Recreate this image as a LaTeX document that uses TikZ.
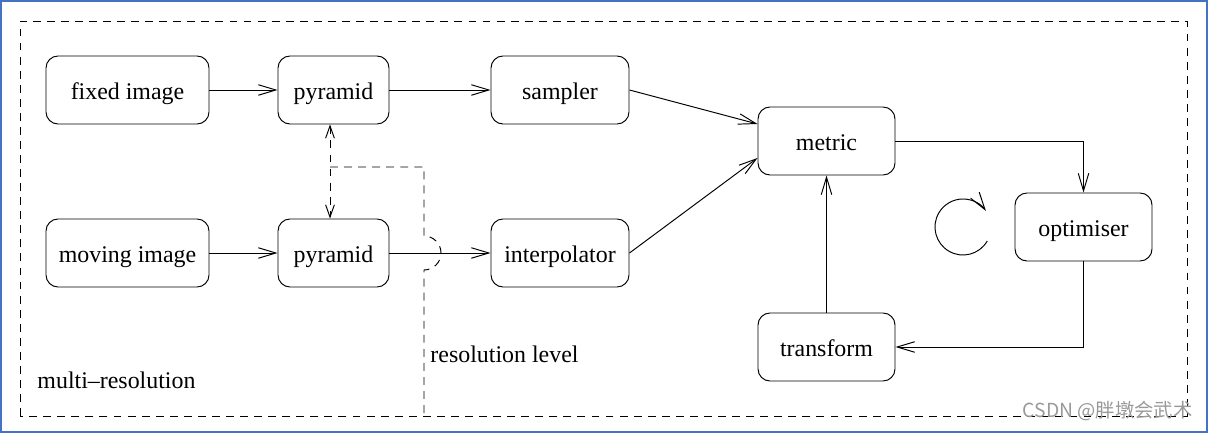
\documentclass[tikz,border=0pt]{standalone}
\usepackage{fontspec}
\setmainfont{Liberation Serif}
\newfontfamily\cjk{Noto Sans CJK SC}
\usetikzlibrary{arrows.meta}
\definecolor{edgeblue}{RGB}{68,114,196}

\begin{document}
\begin{tikzpicture}[>={Straight Barb[length=10pt,width=6pt]}, line width=0.55pt]
  \tikzset{box/.style={draw, rounded corners=0.24cm, minimum height=1.36cm, inner sep=0pt, text height=10.8pt, text depth=0pt, font=\fontsize{13.6}{16}\selectfont}};
  \tikzset{frame/.style={dash pattern=on 4.5pt off 3.5pt}};
  \tikzset{label/.style={anchor=base west, inner sep=0pt, font=\fontsize{13.6}{16}\selectfont}};
  \useasboundingbox (0,0) rectangle (24.16,8.66);
  \draw[line width=0.04cm, edgeblue] (0.02,0.02) rectangle (24.14,8.64);
  % boxes
  \node[box, minimum width=3.26cm] (fixed) at (2.55,6.86) {fixed image};
  \node[box, minimum width=2.22cm] (pyrf) at (6.67,6.86) {pyramid};
  \node[box, minimum width=2.76cm] (sampler) at (11.2,6.86) {sampler};
  \node[box, minimum width=2.74cm] (metric) at (16.53,5.84) {metric};
  \node[box, minimum width=3.26cm] (moving) at (2.55,3.60) {moving image};
  \node[box, minimum width=2.22cm] (pyrm) at (6.67,3.60) {pyramid};
  \node[box, minimum width=2.76cm] (interp) at (11.2,3.60) {interpolator};
  \node[box, minimum width=2.74cm] (optim) at (21.67,4.12) {optimiser};
  \node[box, minimum width=2.74cm] (transform) at (16.53,1.72) {transform};
  % arrows
  \draw[->] (fixed) -- (pyrf);
  \draw[->] (pyrf) -- (sampler);
  \draw[->] (moving) -- (pyrm);
  \draw[->] (pyrm) -- (interp);
  \draw[->] (sampler.east) -- ([yshift=0.34cm]metric.west);
  \draw[->] (interp.east) -- ([yshift=-0.34cm]metric.west);
  \draw[->] (metric.east) -| (optim.north);
  \draw[->] (optim.south) |- (transform.east);
  \draw[->] (transform) -- (metric);
  \draw[->] (19.26,4.12) ++(-30:0.56) arc[start angle=-30, end angle=-325, radius=0.56];
  % resolution levels
  \draw[frame, <->, >={Straight Barb[length=7pt,width=5pt]}] ([xshift=-0.07cm]pyrf.south) -- ([xshift=-0.07cm]pyrm.north);
  \draw[frame] (6.60,5.32) -- (8.48,5.32) -- (8.48,3.94) arc[start angle=90, end angle=-90, radius=0.34] -- (8.48,0.34);
  \draw[frame] (0.40,0.34) rectangle (23.74,8.24);
  \node[label] (reslabel) at (8.60,1.40) {resolution level};
  \node[label] (multilabel) at (0.74,0.88) {multi--resolution};
  \node[anchor=east, inner sep=0pt, text=gray!80, font=\cjk\fontsize{11}{12}\selectfont] (mark) at (23.86,0.44) {CSDN @胖墩会武术};
\end{tikzpicture}
\end{document}
